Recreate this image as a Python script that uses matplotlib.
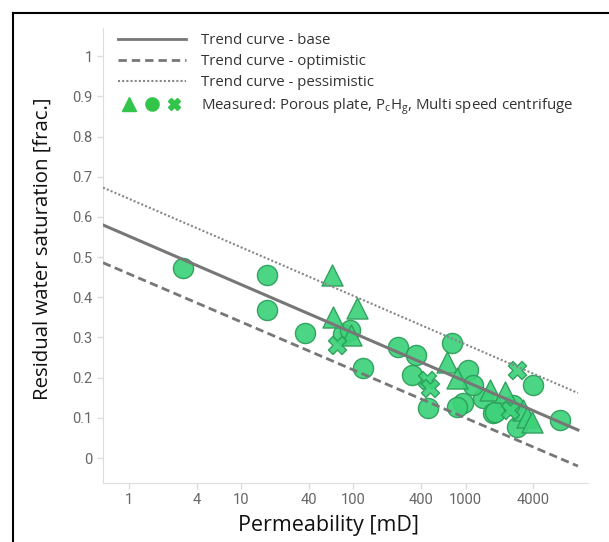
import numpy as np
import matplotlib
matplotlib.use("Agg")
import matplotlib.pyplot as plt
from matplotlib.lines import Line2D
from matplotlib.legend_handler import HandlerTuple

# ---- data ----
trend_k = [0.586, 10000]
trend_base = [0.58, 0.07]
trend_opt = [0.486, -0.02]
trend_pess = [0.673, 0.162]

pchg_k = [3, 17, 17, 37, 80, 93, 122, 250, 361, 330, 465, 757, 1050, 950,
          840, 1430, 1170, 1750, 3990, 1840, 2660, 2870, 6940]
pchg_sw = [0.473, 0.456, 0.369, 0.311, 0.309, 0.319, 0.224, 0.277, 0.257,
           0.207, 0.125, 0.287, 0.219, 0.137, 0.127, 0.150, 0.182, 0.112,
           0.182, 0.115, 0.132, 0.077, 0.095]

plate_k = [64, 66, 108, 95, 680, 840, 1650, 2240, 3240, 3500, 3880]
plate_sw = [0.456, 0.351, 0.374, 0.305, 0.239, 0.199, 0.169, 0.164, 0.120,
            0.102, 0.090]

centr_k = [71, 453, 480, 2870, 2500]
centr_sw = [0.282, 0.194, 0.174, 0.219, 0.120]

x_ticks = [1, 4, 10, 40, 100, 400, 1000, 4000]
y_ticks = [0, 0.1, 0.2, 0.3, 0.4, 0.5, 0.6, 0.7, 0.8, 0.9, 1]
y_ticklabels = ["0", "0.1", "0.2", "0.3", "0.4", "0.5", "0.6", "0.7", "0.8", "0.9", "1"]

FILL = "#3dd27a"
EDGE = "#2a9d58"
LEG_GREEN = "#33c54a"
LINE = "#777777"

plt.rcParams["font.family"] = ["Open Sans", "DejaVu Sans"]

fig = plt.figure(figsize=(6.09, 5.42), dpi=100)
W, H = 609, 542
ax = fig.add_axes([103 / W, 1 - 483 / H, 485 / W, 455 / H])

ax.scatter(pchg_k, pchg_sw, s=210, marker="o", color=FILL, edgecolor=EDGE,
           linewidth=1, alpha=0.92, zorder=3)
ax.scatter(plate_k, plate_sw, s=230, marker="^", color=FILL, edgecolor=EDGE,
           linewidth=1, alpha=0.92, zorder=3)
ax.scatter(centr_k, centr_sw, s=170, marker="X", color=FILL, edgecolor=EDGE,
           linewidth=1, alpha=0.92, zorder=3)

ax.plot(trend_k, trend_base, color=LINE, lw=2.2, zorder=4)
ax.plot(trend_k, trend_opt, color=LINE, lw=2, ls=(0, (3, 1.6)), zorder=4)
ax.plot(trend_k, trend_pess, color="#888888", lw=1.5, ls=(0, (1, 1)), zorder=4)

ax.set_xscale("log")
ax.set_xlim(0.586, 12300)
ax.set_ylim(-0.062, 1.07)
ax.set_xticks(x_ticks)
ax.set_xticklabels([str(t) for t in x_ticks])
ax.xaxis.set_minor_locator(matplotlib.ticker.NullLocator())
ax.set_yticks(y_ticks)
ax.set_yticklabels(y_ticklabels)
ax.tick_params(colors="#dddddd", labelcolor="#666666", labelsize=10.5,
               length=4, width=1)
for lab in ax.get_xticklabels() + ax.get_yticklabels():
    lab.set_family(["Roboto", "DejaVu Sans"])
for side in ["top", "right"]:
    ax.spines[side].set_visible(False)
for side in ["left", "bottom"]:
    ax.spines[side].set_color("#dddddd")

ax.set_xlabel("Permeability [mD]", fontsize=15.5, color="#111111")
ax.set_ylabel("Residual water saturation [frac.]", fontsize=14.7, color="#111111")
ax.xaxis.set_label_coords((328 - 103) / 485, (483 - 525) / 455)
ax.yaxis.set_label_coords((43 - 103) / 485, (483 - 249) / 455)
ax.xaxis.label.set_va("center")
ax.yaxis.label.set_va("center")

# legend
h_base = Line2D([], [], color=LINE, lw=2)
h_opt = Line2D([], [], color=LINE, lw=2, ls=(0, (3, 1.8)))
h_pess = Line2D([], [], color="#888888", lw=1.5, ls=(0, (1, 1)))
m_tri = Line2D([], [], ls="none", marker="^", ms=9.5, color=LEG_GREEN, mec=LEG_GREEN)
m_circ = Line2D([], [], ls="none", marker="o", ms=9.5, color=LEG_GREEN, mec=LEG_GREEN)
m_x = Line2D([], [], ls="none", marker="X", ms=8.5, color=LEG_GREEN, mec=LEG_GREEN)
ax.legend([h_base, h_opt, h_pess, (m_tri, m_circ, m_x)],
          ["Trend curve - base", "Trend curve - optimistic",
           "Trend curve - pessimistic",
           r"Measured: Porous plate, P$_\mathregular{c}$H$_\mathregular{g}$, Multi speed centrifuge"],
          handler_map={tuple: HandlerTuple(ndivide=None, pad=0)},
          loc="upper left", bbox_to_anchor=(0.025, 0.996), borderaxespad=0,
          borderpad=0.2, frameon=False, fontsize=10.8, handlelength=4.5,
          handletextpad=1.0, labelspacing=0.4, labelcolor="#333333")

# outer frame of the picture (left and top)
fig.add_artist(Line2D([12.5 / W, 12.5 / W], [0, 1 - 12.5 / H], color="black", lw=1.5))
fig.add_artist(Line2D([12.5 / W, 1], [1 - 12.5 / H, 1 - 12.5 / H], color="black", lw=1.5))

fig.savefig("out.png", dpi=100)
plt.close(fig)
